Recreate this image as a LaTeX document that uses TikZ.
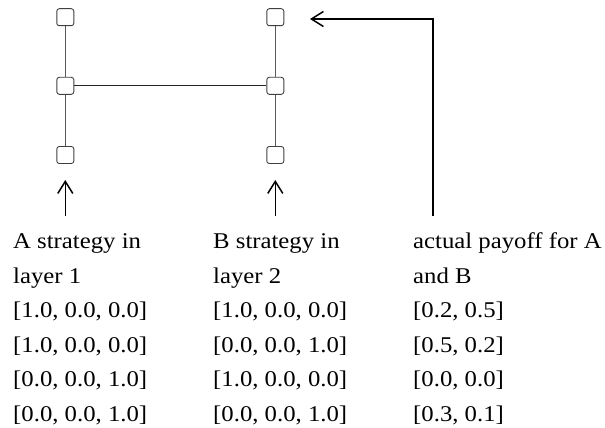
\documentclass[tikz,border=0pt]{standalone}
\usepackage{fontspec}
\setmainfont{Liberation Serif}[FakeStretch=1.1]
\usetikzlibrary{arrows.meta}
\begin{document}
\begin{tikzpicture}[x=1pt,y=-1pt,
  sq/.style={draw=black!75,line width=0.9pt,rounded corners=2.5pt,minimum size=17pt,inner sep=0pt,fill=white},
  edge/.style={draw=black!65,line width=1pt},
  hedge/.style={draw=black!85,line width=0.9pt},
  arr/.style={draw=black,line width=1.5pt,-{Straight Barb[length=12pt,width=15pt,line width=1.5pt]}},
  txt/.style={anchor=base west,inner sep=0pt,font=\fontsize{22.5}{26}\selectfont,text=black}]
\useasboundingbox (0,0) rectangle (605,428);
% nodes
\node[sq] (a1) at (65.3,17.2) {};
\node[sq] (a2) at (65.3,85.8) {};
\node[sq] (a3) at (65.3,155) {};
\node[sq] (b1) at (275.3,17.2) {};
\node[sq] (b2) at (275.3,85.8) {};
\node[sq] (b3) at (275.3,155) {};
\draw[edge] (a1) -- (a2);
\draw[edge] (a2) -- (a3);
\draw[edge] (b1) -- (b2);
\draw[edge] (b2) -- (b3);
\draw[hedge] (a2) -- (b2);
% arrows
\coordinate (pa) at (65.3,216);
\coordinate (pat) at (65.3,180);
\coordinate (pb) at (275.3,216);
\coordinate (pbt) at (275.3,180);
\coordinate (pc) at (433,216);
\coordinate (pcc) at (433,19);
\coordinate (pct) at (310,19);
\draw[arr] (pa) -- (pat);
\draw[arr] (pb) -- (pbt);
\draw[arr] (pc) -- (pcc) -- (pct);
% texts
\node[txt] (t11) at (13,248.5) {A strategy in};
\node[txt] (t12) at (13,283) {layer 1};
\node[txt] (t13) at (13,317.5) {[1.0, 0.0, 0.0]};
\node[txt] (t14) at (13,352) {[1.0, 0.0, 0.0]};
\node[txt] (t15) at (13,386.5) {[0.0, 0.0, 1.0]};
\node[txt] (t16) at (13,421) {[0.0, 0.0, 1.0]};
\node[txt] (t21) at (213,248.5) {B strategy in};
\node[txt] (t22) at (213,283) {layer 2};
\node[txt] (t23) at (213,317.5) {[1.0, 0.0, 0.0]};
\node[txt] (t24) at (213,352) {[0.0, 0.0, 1.0]};
\node[txt] (t25) at (213,386.5) {[1.0, 0.0, 0.0]};
\node[txt] (t26) at (213,421) {[0.0, 0.0, 1.0]};
\node[txt] (t31) at (413,248.5) {actual payoff for A};
\node[txt] (t32) at (413,283) {and B};
\node[txt] (t33) at (413,317.5) {[0.2, 0.5]};
\node[txt] (t34) at (413,352) {[0.5, 0.2]};
\node[txt] (t35) at (413,386.5) {[0.0, 0.0]};
\node[txt] (t36) at (413,421) {[0.3, 0.1]};
\end{tikzpicture}
\end{document}
